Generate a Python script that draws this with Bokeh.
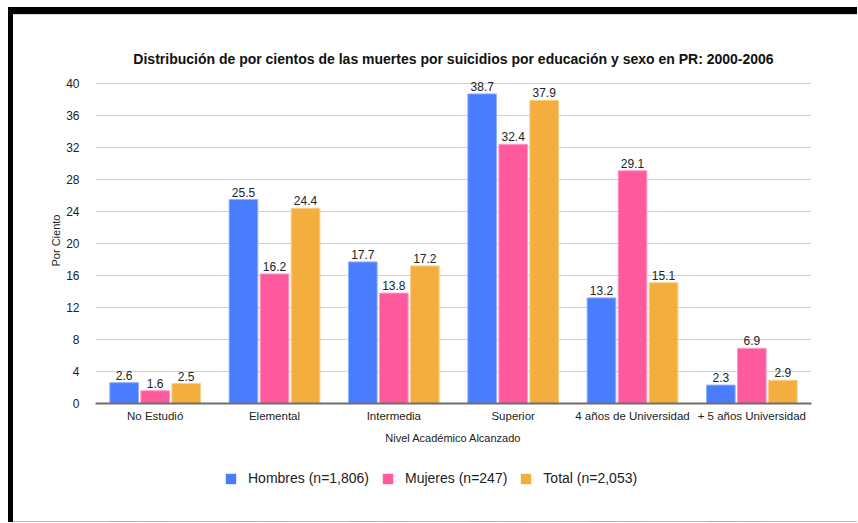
from bokeh.plotting import figure
from bokeh.layouts import column
from bokeh.models import ColumnDataSource, FactorRange, FixedTicker, Legend, LegendItem, Range1d
from bokeh.transform import dodge
from bokeh.core.properties import value
from bokeh.embed import file_html
from bokeh.resources import INLINE

categories = ["No Estudió", "Elemental", "Intermedia", "Superior",
              "4 años de Universidad", "+ 5 años Universidad"]
hombres = [2.6, 25.5, 17.7, 38.7, 13.2, 2.3]
mujeres = [1.6, 16.2, 13.8, 32.4, 29.1, 6.9]
total = [2.5, 24.4, 17.2, 37.9, 15.1, 2.9]
series_names = ["Hombres (n=1,806)", "Mujeres (n=247)", "Total (n=2,053)"]
y_ticks = [0, 4, 8, 12, 16, 20, 24, 28, 32, 36, 40]

title = "Distribución de por cientos de las muertes por suicidios por educación y sexo en PR: 2000-2006"
x_label = "Nivel Académico Alcanzado"
y_label = "Por Ciento"

colors = ["#4a7cfe", "#ff5a9d", "#f3ae3d"]
edge = ["#8fb0ff", "#ff9cc4", "#f8cf88"]
FONT = "Liberation Sans"

source = ColumnDataSource(dict(
    cat=categories,
    h=hombres, m=mujeres, t=total,
    hl=[f"{v:.1f}" for v in hombres],
    ml=[f"{v:.1f}" for v in mujeres],
    tl=[f"{v:.1f}" for v in total],
))

p = figure(x_range=FactorRange(factors=categories, range_padding=0),
           y_range=(0, 40.75), frame_width=716, frame_height=326,
           output_backend="svg", toolbar_location=None,
           title=title)
p.min_border_left = 95
p.min_border_right = 46
p.min_border_top = 77
p.min_border_bottom = 52
p.outline_line_color = None
p.background_fill_color = "white"
p.border_fill_alpha = 0

p.title.text_font = FONT
p.title.text_font_size = "14px"
p.title.text_font_style = "bold"
p.title.text_color = "#111111"
p.title.align = "center"
p.title.standoff = 21

offsets = [-0.26, 0.0, 0.26]
cols = ["h", "m", "t"]
lcols = ["hl", "ml", "tl"]
for off, c, lc, col, ec in zip(offsets, cols, lcols, colors, edge):
    p.vbar(x=dodge("cat", off, range=p.x_range), top=c, width=0.24,
           source=source, fill_color=col, line_color=ec, line_width=1)
    p.text(x=dodge("cat", off, range=p.x_range), y=c, text=lc, source=source,
           text_align="center", text_baseline="bottom", y_offset=-3,
           text_font=value(FONT), text_font_size="12px", text_color="#222222")

p.xgrid.grid_line_color = None
p.ygrid.grid_line_color = "#d0d0d0"
p.ygrid.grid_line_width = 1
p.yaxis.ticker = FixedTicker(ticks=y_ticks)

p.yaxis.axis_line_color = None
p.yaxis.major_tick_line_color = None
p.yaxis.minor_tick_line_color = None
p.yaxis.major_label_standoff = 10
p.yaxis.major_label_text_font = FONT
p.yaxis.major_label_text_font_size = "12px"
p.yaxis.major_label_text_color = "#222222"
p.yaxis.axis_label = y_label
p.yaxis.axis_label_text_font = FONT
p.yaxis.axis_label_text_font_size = "11px"
p.yaxis.axis_label_text_font_style = "normal"
p.yaxis.axis_label_standoff = 1
p.yaxis.axis_label_text_color = "#222222"

p.xaxis.axis_line_color = "#6e6e6e"
p.xaxis.axis_line_width = 2
p.xaxis.major_tick_line_color = None
p.xaxis.minor_tick_line_color = None
p.xaxis.major_label_standoff = 0
p.xaxis.major_label_text_font = FONT
p.xaxis.major_label_text_font_size = "11.5px"
p.xaxis.major_label_text_color = "#222222"
p.xaxis.axis_label = x_label
p.xaxis.axis_label_text_font = FONT
p.xaxis.axis_label_text_font_size = "11px"
p.xaxis.axis_label_text_font_style = "normal"
p.xaxis.axis_label_standoff = 7
p.xaxis.axis_label_text_color = "#222222"

# legend strip below the chart (same bars, drawn outside its visible y range)
p2 = figure(width=857, height=67, x_range=p.x_range, y_range=Range1d(100, 200),
            output_backend="svg", toolbar_location=None,
            x_axis_location=None, y_axis_location=None)
p2.min_border_left = 95
p2.min_border_right = 46
p2.min_border_top = 0
p2.min_border_bottom = 1
p2.outline_line_color = None
p2.background_fill_alpha = 0
p2.border_fill_alpha = 0
p2.grid.visible = False
leg_renderers = [p2.vbar(x=dodge("cat", off, range=p.x_range), top=c, width=0.24, source=source,
                         fill_color=col, line_color=None)
                 for off, c, col in zip(offsets, cols, colors)]

legend = Legend(items=[LegendItem(label=n, renderers=[r]) for n, r in zip(series_names, leg_renderers)],
                orientation="horizontal", location=(129, 35))
legend.border_line_color = None
legend.background_fill_alpha = 0
legend.label_text_font = FONT
legend.label_text_font_size = "14px"
legend.label_text_color = "#222222"
legend.glyph_width = 13
legend.glyph_height = 13
legend.label_standoff = 11
legend.spacing = 12
legend.padding = 4
legend.margin = 0
p2.add_layout(legend, "center")

layout = column(p, p2, spacing=0)
layout.styles = {"background": (
    "linear-gradient(#000,#000) 8px 7px / 850px 7px no-repeat,"
    "linear-gradient(#000,#000) 8px 7px / 5px 516px no-repeat,"
    "linear-gradient(#d8d8d8,#d8d8d8) 13px 14px / 845px 1px no-repeat,"
    "linear-gradient(#bdbdbd,#bdbdbd) 13px 521px / 845px 1px no-repeat,"
    "#ffffff")}

open("out.html", "w").write(file_html(layout, INLINE))
